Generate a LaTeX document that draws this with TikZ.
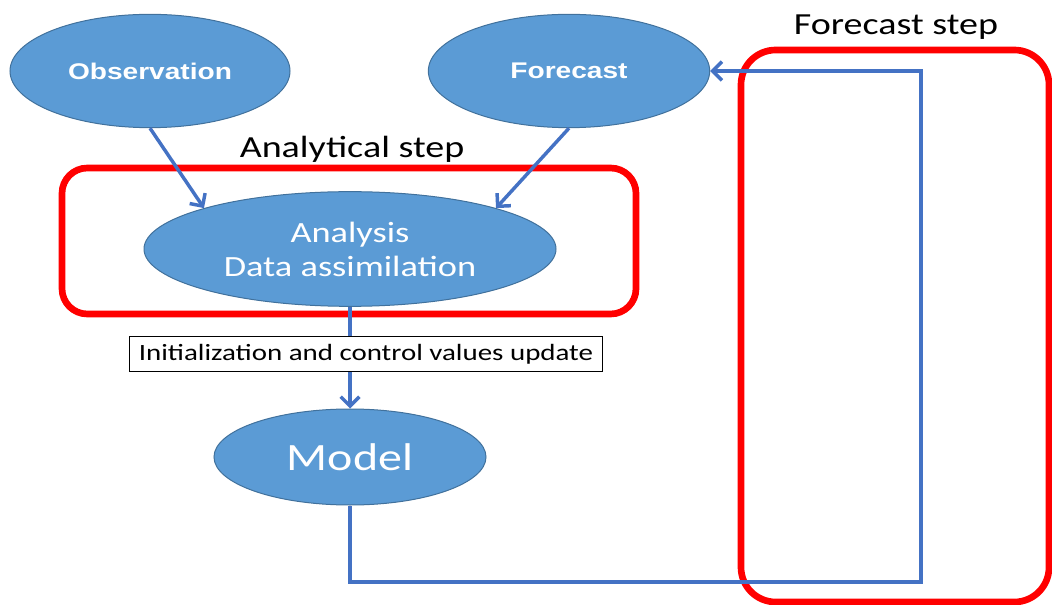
\documentclass[tikz,border=0pt]{standalone}
\usepackage{fontspec}
\usetikzlibrary{shapes.geometric,arrows.meta}
\newfontfamily\calib[FakeStretch=1.24]{Carlito}
\newfontfamily\arialf[FakeStretch=1.24]{Liberation Sans}
\definecolor{cellfill}{HTML}{5B9BD5}
\definecolor{celldraw}{HTML}{41719C}
\definecolor{flowblue}{HTML}{4472C4}
\definecolor{stepred}{HTML}{FF0000}
\begin{document}
\begin{tikzpicture}[x=0.75pt,y=0.75pt,yscale=-1,xscale=1,
    cell/.style={ellipse,draw=celldraw,fill=cellfill,line width=0.75pt,text=white,inner sep=0pt},
    flow/.style={draw=flowblue,line width=2.6pt,-{Straight Barb[length=7pt,width=14pt]}},
    stepframe/.style={draw=stepred,line width=5pt},
    steplabel/.style={font=\calib\fontsize{23}{27}\selectfont}]
                \useasboundingbox (0,0) rectangle (1052,605);
                %Step frames
                \draw [stepframe,rounded corners=19pt] (62,168) rectangle (636,314) ;
                \draw [stepframe,rounded corners=26pt] (741,50) rectangle (1049,602) ;

                % Ellipses
                \node [cell,minimum width=210pt,minimum height=85pt,font=\arialf\bfseries\fontsize{17}{20}\selectfont] (obs) at (150,71) {Observation};
                \node [cell,minimum width=211pt,minimum height=85pt,font=\arialf\bfseries\fontsize{17}{20}\selectfont] (fore) at (569,71) {Forecast};
                \node [cell,minimum width=309pt,minimum height=86pt,align=center,font=\calib\fontsize{22}{25.5}\selectfont] (ana) at (350,249) {Analysis\\Data assimilation};
                \node [cell,minimum width=204pt,minimum height=72pt,font=\calib\fontsize{29}{34}\selectfont] (model) at (350,457) {Model};

                % Connectors
                \draw [flow] (obs.south) -- (ana.north west) ;
                \draw [flow] (fore.south) -- (ana.north east) ;
                \draw [flow] (ana.south) -- (model.north) ;
                \coordinate (retbot) at (921,582) ;
                \draw [flow] (model.south) |- (retbot) |- (fore.east) ;

                % Text Node
                \node [draw=black,fill=white,line width=0.75pt,inner xsep=7pt,minimum height=26pt,font=\calib\fontsize{17.5}{20}\selectfont] (init) at (366,354) {Initialization and control values update};
                % Text Node
                \node [steplabel] (anastep) at (352,149) {Analytical step};
                % Text Node
                \node [steplabel] (forestep) at (896,27) {Forecast step};
\end{tikzpicture}
\end{document}
